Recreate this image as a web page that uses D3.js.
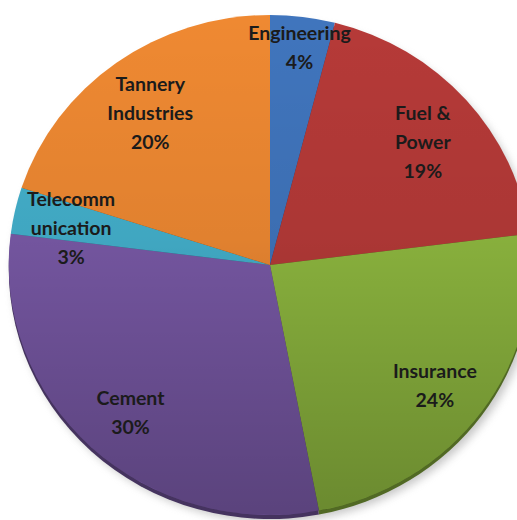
<!DOCTYPE html>
<html>
<head>
<meta charset="utf-8">
<script src="https://cdn.jsdelivr.net/npm/d3@7"></script>
<style>
  body { margin: 0; background: #fff; }
  svg { display: block; }
</style>
</head>
<body>
<div id="chart"></div>
<script>
// data
var sectors = ["Engineering", "Fuel & Power", "Insurance", "Cement", "Telecommunication", "Tannery Industries"];
var shares = [4, 19, 24, 30, 3, 20];
var labelLines = [
  ["Engineering"],
  ["Fuel &", "Power"],
  ["Insurance"],
  ["Cement"],
  ["Telecomm", "unication"],
  ["Tannery", "Industries"]
];
var sliceColors = ["#4075bd", "#b63a38", "#90ba40", "#7a5aa8", "#44b1cd", "#ef8932"];

var width = 517, height = 520;
var cx = 270, cy = 265, r = 250, sx = 1.045;

var svg = d3.select("#chart")
  .append("svg")
    .attr("width", width)
    .attr("height", height);

var defs = svg.append("defs");

defs.append("filter")
    .attr("id", "blur")
    .attr("x", "-10%").attr("y", "-10%").attr("width", "120%").attr("height", "120%")
  .append("feGaussianBlur")
    .attr("stdDeviation", 4);

// darken towards the bottom
var shade = defs.append("linearGradient")
    .attr("id", "shade")
    .attr("gradientUnits", "userSpaceOnUse")
    .attr("x1", 0).attr("y1", -r)
    .attr("x2", 0).attr("y2", r);
shade.append("stop").attr("offset", "0%").attr("stop-color", "#000").attr("stop-opacity", 0);
shade.append("stop").attr("offset", "45%").attr("stop-color", "#000").attr("stop-opacity", 0.06);
shade.append("stop").attr("offset", "100%").attr("stop-color", "#000").attr("stop-opacity", 0.26);

var pie = d3.pie()
  .sort(null)
  .value(function(d) { return d; });

var arcs = pie(shares);

var arc = d3.arc()
  .innerRadius(0)
  .outerRadius(r);

// labels sit at ~0.78r; a thin slice near the top gets pushed out towards the rim
function labelPos(d) {
  var span = d.endAngle - d.startAngle;
  var mid = (d.startAngle + d.endAngle) / 2;
  var k = (span < 0.3 && Math.cos(mid) > 0.9) ? 0.9 : 0.78;
  var lr = r * k;
  return [cx + Math.sin(mid) * lr * sx, cy - Math.cos(mid) * lr + 6];
}

var g = svg.append("g")
  .attr("transform", "translate(" + cx + "," + cy + ") scale(" + sx + ",1)");

// soft shadow to the lower right
g.append("circle")
  .attr("cx", 4).attr("cy", 7)
  .attr("r", r)
  .attr("fill", "#9a9a9a")
  .attr("opacity", 0.55)
  .attr("filter", "url(#blur)");

// thin side of the disc
g.selectAll("path.side")
  .data(arcs)
  .enter().append("path")
    .attr("class", "side")
    .attr("d", arc)
    .attr("transform", "translate(0,4)")
    .attr("fill", function(d, i) { return d3.color(sliceColors[i]).darker(1.6); });

g.selectAll("path.slice")
  .data(arcs)
  .enter().append("path")
    .attr("class", "slice")
    .attr("d", arc)
    .attr("fill", function(d, i) { return sliceColors[i]; });

g.append("circle")
  .attr("r", r)
  .attr("fill", "url(#shade)");

// labels
var lineH = 29;
var labels = svg.append("g")
  .attr("font-family", "Lato, 'Open Sans', sans-serif")
  .attr("font-weight", "bold")
  .attr("font-size", "19.5px")
  .attr("fill", "#1b1b1b")
  .attr("text-anchor", "middle");

labels.selectAll("text")
  .data(arcs)
  .enter().append("text")
    .attr("transform", function(d) {
      var p = labelPos(d);
      return "translate(" + p[0] + "," + p[1] + ")";
    })
    .each(function(d, i) {
      var lines = labelLines[i].concat([shares[i] + "%"]);
      var t = d3.select(this);
      var y0 = -(lines.length - 1) * lineH / 2;
      lines.forEach(function(s, k) {
        t.append("tspan")
          .attr("x", 0)
          .attr("y", y0 + k * lineH)
          .attr("dy", "0.35em")
          .text(s);
      });
    });
</script>
</body>
</html>
